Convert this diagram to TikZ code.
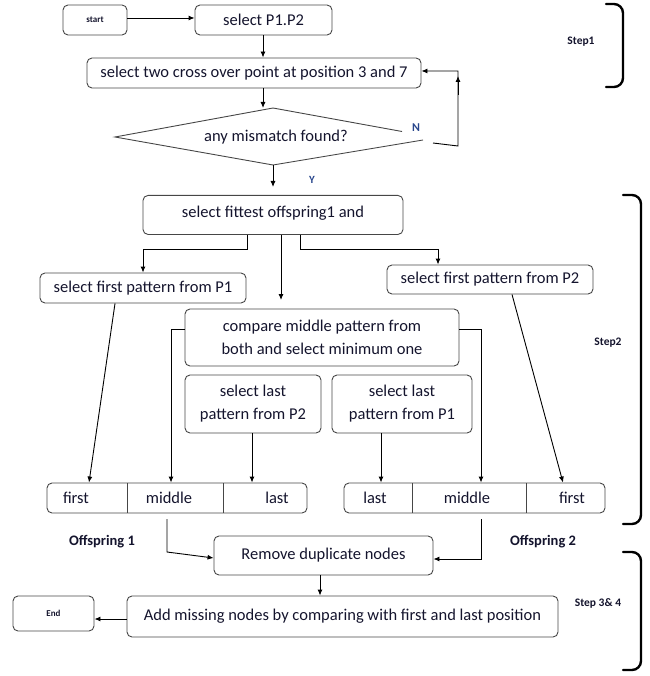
\documentclass[tikz,border=0pt]{standalone}
\usepackage{fontspec}
\setmainfont{Carlito}
\usetikzlibrary{arrows.meta}
\definecolor{txt}{RGB}{20,20,45}
\definecolor{lbl}{RGB}{40,70,140}
\definecolor{edge}{RGB}{70,70,70}
\tikzset{
  box/.style={draw=edge, line width=0.9pt, rounded corners=5pt, inner sep=2pt, align=center, text=txt, font=\fontsize{16.5}{20}\selectfont},
  plain/.style={inner sep=0pt, text=txt, font=\fontsize{16.5}{20}\selectfont},
  steplbl/.style={inner sep=0pt, text=txt, font=\bfseries\fontsize{11.5}{14}\selectfont},
  arr/.style={-{Latex[length=6pt,width=5pt]}, line width=0.9pt, draw=black},
  brace/.style={line width=2.4pt, rounded corners=9pt, line cap=round}
}
\begin{document}
\begin{tikzpicture}[x=1pt,y=-1pt]
\useasboundingbox (0,0) rectangle (649,676);
% top part
\node[box, minimum width=64pt, minimum height=30pt, font=\bfseries\fontsize{9}{11}\selectfont] (start) at (95,20) {start};
\node[box, minimum width=137pt, minimum height=30pt] (p12) at (263.5,20) {select P1.P2};
\node[box, minimum width=334pt, minimum height=30pt] (cross) at (254,73) {select two cross over point at position 3 and 7};
\draw[arr] ([yshift=2pt]start.east) -- ([yshift=2pt]p12.west);
\draw[arr] ([xshift=-0.5pt]p12.south) -- ([xshift=9pt]cross.north);
% diamond
\node[plain] (dia) at (276,137) {any mismatch found?};
\draw[line width=0.9pt, draw=edge] (402,131.5) -- (273,108) -- (115,137) -- (273,165) -- (423,140);
\draw[arr] ([xshift=9pt]cross.south) -- (263,108);
\coordinate (dn) at (433,143);
\draw[arr] (dn) -- (458,146) -- (458,71) -- ([yshift=2pt]cross.east);
\draw[arr] (458,95) -- (458,76);
\node[inner sep=0pt, text=lbl, font=\bfseries\fontsize{12}{14}\selectfont] (N) at (416,128) {N};
\coordinate (dbot) at (273,165);
\draw[arr] (dbot) -- (273,187);
\node[inner sep=0pt, text=lbl, font=\bfseries\fontsize{11}{13}\selectfont] (Y) at (312,180) {Y};
% step 2
\node[box, minimum width=260pt, minimum height=39pt, anchor=north] (fit) at (273,195) {};
\node[plain] (fittxt) at (273,213) {select fittest offspring1 and};
\node[box, minimum width=206pt, minimum height=30pt] (p1) at (143,288) {select first pattern from P1};
\node[box, minimum width=206pt, minimum height=29pt] (p2) at (490,279.5) {select first pattern from P2};
\node[box, minimum width=274pt, minimum height=57pt, font=\fontsize{16.5}{23}\selectfont] (cmp) at (322,337.5) {compare middle pattern from\\both and select minimum one};
\node[box, minimum width=136pt, minimum height=58pt, font=\fontsize{16.5}{23}\selectfont] (l2) at (253,404) {select last\\pattern from P2};
\node[box, minimum width=140pt, minimum height=58pt, font=\fontsize{16.5}{23}\selectfont] (l1) at (402,404) {select last\\pattern from P1};
\draw[arr] ([xshift=-26pt]fit.south) -- ++(0,15) -| (p1.north);
\coordinate (midend) at (281,300);
\draw[arr] ([xshift=8pt]fit.south) -- (midend);
\draw[arr] ([xshift=27pt]fit.south) -- ++(0,15) -| ([xshift=-52pt]p2.north);
% offspring boxes
\node[box, minimum width=260pt, minimum height=30pt] (off1) at (177,498) {};
\draw[line width=0.9pt, draw=edge] (127,483) -- (127,513);
\draw[line width=0.9pt, draw=edge] (223,483) -- (223,513);
\node[plain] (f1) at (76,498) {first};
\node[plain] (m1) at (169,498) {middle};
\node[plain] (la1) at (277,498) {last};
\node[box, minimum width=261pt, minimum height=30pt] (off2) at (474.5,498) {};
\draw[line width=0.9pt, draw=edge] (412,483) -- (412,513);
\draw[line width=0.9pt, draw=edge] (526,483) -- (526,513);
\node[plain] (la2) at (375,498) {last};
\node[plain] (m2) at (467,498) {middle};
\node[plain] (f2) at (572,498) {first};
\draw[arr] ([xshift=-28pt]p1.south) -- ([xshift=-88pt]off1.north);
\draw[arr] ([yshift=8.5pt]cmp.west) -| ([xshift=-6pt]off1.north);
\draw[arr] ([xshift=-1pt]l2.south) -- ([xshift=-1pt]l2.south |- off1.north);
\draw[arr] ([xshift=-21pt]l1.south) -- ([xshift=-21pt]l1.south |- off2.north);
\draw[arr] ([yshift=8.5pt]cmp.east) -| ([xshift=6.5pt]off2.north);
\draw[arr] ([xshift=22pt]p2.south) -- ([xshift=88.5pt]off2.north);
\node[inner sep=0pt, text=txt, font=\bfseries\fontsize{14.5}{18}\selectfont] (o1lbl) at (102,542) {Offspring 1};
\node[inner sep=0pt, text=txt, font=\bfseries\fontsize{14.5}{18}\selectfont] (o2lbl) at (543,542) {Offspring 2};
% step 3 & 4
\node[box, minimum width=219pt, minimum height=39pt] (rem) at (323.5,555.5) {Remove duplicate nodes};
\node[box, minimum width=431pt, minimum height=41pt] (add) at (342.5,616.5) {Add missing nodes by comparing with first and last position};
\node[box, minimum width=81pt, minimum height=35pt, font=\bfseries\fontsize{9}{11}\selectfont] (end) at (53.5,613.5) {End};
\coordinate (o1m) at (167,519);
\coordinate (o2m) at (481,519);
\draw[arr] (o1m) -- (167,552) -- ([yshift=-2.5pt]rem.west);
\draw[arr] (o2m) -- (481,559) -- ([yshift=-3.5pt]rem.east);
\draw[arr] ([xshift=-3.5pt]rem.south) -- ([xshift=-3.5pt]rem.south |- add.north);
\draw[arr] ([yshift=-2.5pt]add.west) -- ([yshift=-2.5pt]add.west -| end.east);
% brackets and step labels
\draw[brace] (606,4) -- (623,4) -- (623,87) -- (606,87);
\draw[brace] (623,195) -- (641,195) -- (641,524) -- (623,524);
\draw[brace] (623,552) -- (641,552) -- (641,670) -- (623,670);
\node[steplbl] (s1) at (581,42) {Step1};
\node[steplbl] (s2) at (608,343) {Step2};
\node[steplbl] (s34) at (598,603) {Step 3\& 4};
\end{tikzpicture}
\end{document}
